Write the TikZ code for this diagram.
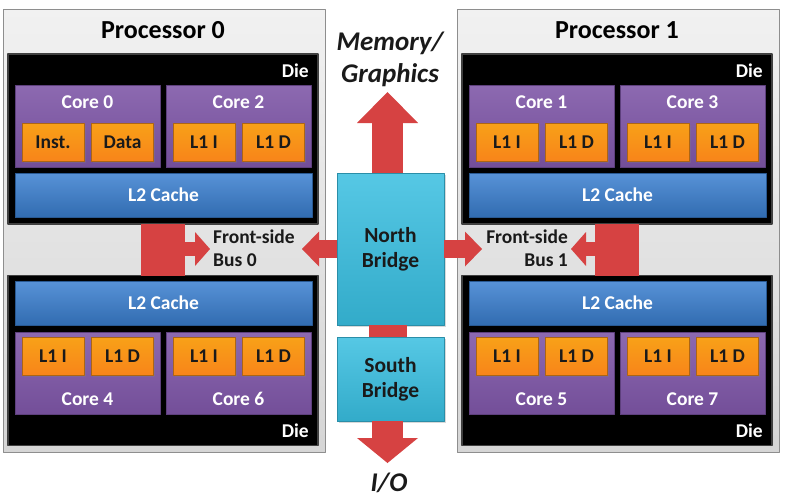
\documentclass[tikz,border=0pt]{standalone}
\usepackage{fontspec}
\setmainfont{Carlito}
\usetikzlibrary{arrows.meta,shadows}
\definecolor{procgray}{HTML}{E3E3E3}
\definecolor{procedge}{HTML}{8E8E8E}
\definecolor{coreviolet}{HTML}{7D55A6}
\definecolor{lonecolor}{HTML}{F7901C}
\definecolor{ltwocolor}{HTML}{3A7FD0}
\definecolor{bridgecyan}{HTML}{38BEE0}
\definecolor{busred}{HTML}{D64242}
\definecolor{inktext}{HTML}{1A1A1A}

\begin{document}
\begin{tikzpicture}[x=1pt,y=-1pt,line join=round,
  box/.style={rectangle,inner sep=0pt,outer sep=0pt},
  shade/.style={drop shadow={shadow xshift=1.5pt,shadow yshift=-1.5pt,opacity=0.3}},
  proc/.style={box,draw=procedge,line width=1pt,top color=procgray!50!white,bottom color=procgray!94!black,minimum width=322pt,minimum height=443pt},
  die/.style={box,draw=black!75,line width=1.2pt,fill=black,minimum width=310pt,minimum height=170pt},
  core/.style={box,draw=coreviolet!75!black,line width=0.6pt,top color=coreviolet!88!white,bottom color=coreviolet!92!black,minimum width=145pt,minimum height=82pt},
  lone/.style={box,shade,draw=lonecolor!70!black,line width=0.6pt,top color=lonecolor!85!yellow,bottom color=lonecolor!92!red,minimum width=62pt,minimum height=38pt,text=inktext,txt},
  ltwo/.style={box,draw=ltwocolor!70!black,line width=0.6pt,top color=ltwocolor!85!white,bottom color=ltwocolor!85!black,minimum width=297pt,minimum height=44pt,text=white,txt},
  bridge/.style={box,shade,draw=bridgecyan!75!black,line width=0.6pt,top color=bridgecyan!85!white,bottom color=bridgecyan!90!black,minimum width=107pt,text=inktext,align=center,font=\fontsize{21.5}{25}\selectfont\bfseries},
  txt/.style={font=\fontsize{19.5}{23}\selectfont\bfseries},
  title/.style={anchor=base,inner sep=0pt,font=\fontsize{26}{30}\selectfont\bfseries},
  corelbl/.style={anchor=base,inner sep=0pt,text=white,txt},
  dielbl/.style={anchor=base east,inner sep=0pt,text=white,txt},
  buslbl/.style={inner sep=0pt,text=inktext,txt},
  iolbl/.style={align=center,inner sep=0pt,text=inktext,font=\fontsize{27}{32}\selectfont\bfseries\itshape},
  fat/.style n args={3}{busred,line width=#1,-{Triangle[width=#2,length=#3,line width=0pt]}},
  link/.style={busred,line width=#1},
]
\path[use as bounding box,fill=white] (0,0) rectangle (790,498);

% processors, dies and shared caches
\foreach \p/\dx in {0/0,1/454}{
  \node[proc] (proc\p) at (164+\dx,230.5) {};
  \node[title] (ptitle\p) at (163+\dx,38) {Processor \p};
  \node[die] (dieA\p) at (163+\dx,139) {};
  \node[die] (dieB\p) at (163+\dx,360.5) {};
  \node[dielbl] (dlA\p) at (309+\dx,77) {Die};
  \node[dielbl] (dlB\p) at (309+\dx,437) {Die};
  \node[ltwo] (ltwoA\p) at (163.5+\dx,195) {L2 Cache};
  \node[ltwo] (ltwoB\p) at (163.5+\dx,303) {L2 Cache};
  \draw[link=44pt] (dieA\p.south) -- (dieB\p.north);
}

% cores with their L1 caches
\foreach \c/\x/\y/\ty/\ly/\ti/\td in {0/87.5/126/108/142/Inst./Data,2/238.5/126/108/142/L1 I/L1 D,
    4/87.5/373/405/356.5/L1 I/L1 D,6/238.5/373/405/356.5/L1 I/L1 D,
    1/541.5/126/108/142/L1 I/L1 D,3/692.5/126/108/142/L1 I/L1 D,
    5/541.5/373/405/356.5/L1 I/L1 D,7/692.5/373/405/356.5/L1 I/L1 D}{
  \node[core] (core\c) at (\x,\y) {};
  \node[corelbl] (clbl\c) at (\x,\ty) {Core \c};
  \node[lone] (lonei\c) at (\x-34.5,\ly) {\ti};
  \node[lone] (loned\c) at (\x+35,\ly) {\td};
}

% front-side buses
\coordinate (fsbtip0) at (210,249);
\coordinate (fsbtip1) at (571,249);
\draw[fat={14pt}{34pt}{15pt}] (dieA0.south |- fsbtip0) -- (fsbtip0);
\draw[fat={14pt}{34pt}{15pt}] (dieA1.south |- fsbtip1) -- (fsbtip1);
\node[buslbl,anchor=west,align=left] (fsb0) at (213,248) {Front-side\\Bus 0};
\node[buslbl,anchor=east,align=right] (fsb1) at (568,248) {Front-side\\Bus 1};

% chipset
\node[bridge,minimum height=152pt] (nb) at (390.5,249) {North\\Bridge};
\node[bridge,minimum height=84pt] (sb) at (390.5,379) {South\\Bridge};
\coordinate (memtip) at (387.5,92);
\coordinate (iotip) at (387.5,463);
\coordinate (nbtip0) at (302,249);
\coordinate (nbtip1) at (482,249);
\draw[link=38pt] ([xshift=-3pt]nb.south) -- ([xshift=-3pt]sb.north);
\draw[fat={31pt}{61pt}{31pt}] (nb.north -| memtip) -- (memtip);
\draw[fat={31pt}{61pt}{25pt}] (sb.south -| iotip) -- (iotip);
\draw[fat={18pt}{35pt}{17pt}] (nb.west) -- (nbtip0);
\draw[fat={18pt}{35pt}{17pt}] (nb.east) -- (nbtip1);
\node[iolbl] (mem) at (390,59) {Memory/\\Graphics};
\node[iolbl] (io) at (389,483) {I/O};
\end{tikzpicture}
\end{document}
